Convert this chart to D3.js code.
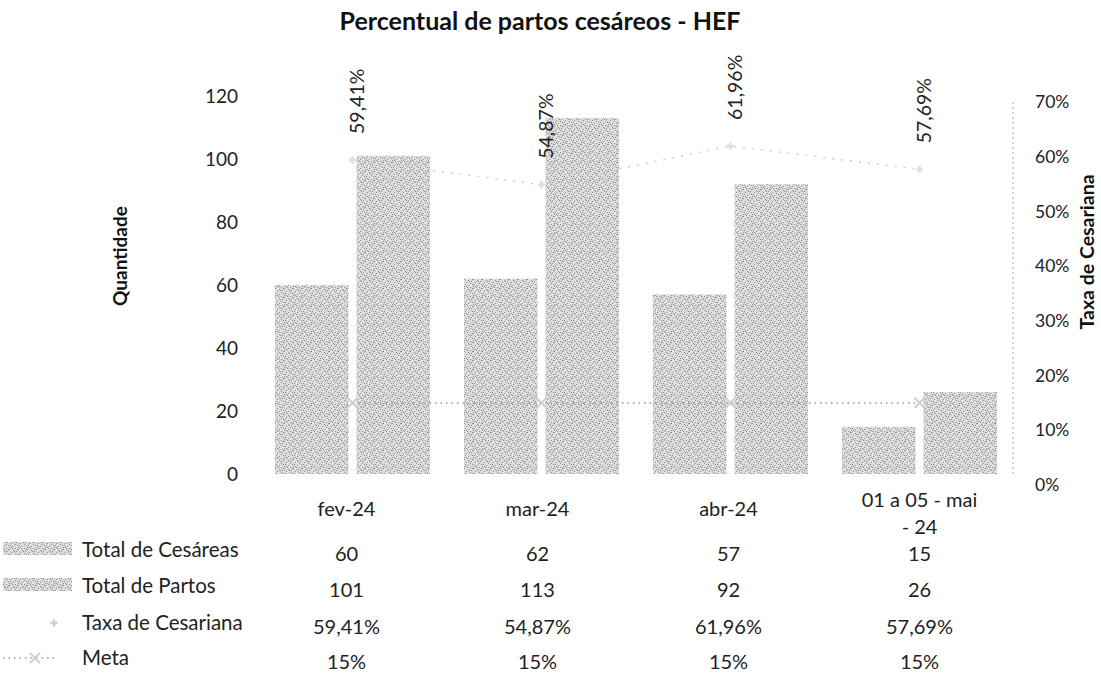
<!DOCTYPE html>
<html><head><meta charset="utf-8">
<script src="https://cdn.jsdelivr.net/npm/d3@7"></script>
<style>
html,body{margin:0;padding:0;background:#fff;}
svg{display:block;font-family:Lato,"Open Sans",sans-serif;}
</style></head>
<body><svg id="c" width="1101" height="679"></svg>
<script>
// ---- data ----
const categories = ["fev-24", "mar-24", "abr-24", "01 a 05 - mai - 24"];
const categoryLines = [["fev-24"], ["mar-24"], ["abr-24"], ["01 a 05 - mai", "- 24"]];
const totalCesareas = [60, 62, 57, 15];
const totalPartos = [101, 113, 92, 26];
const taxaCesariana = [0.5941, 0.5487, 0.6196, 0.5769];
const meta = [0.15, 0.15, 0.15, 0.15];
const leftTicks = [0, 20, 40, 60, 80, 100, 120];
const rightTicks = [0, 0.1, 0.2, 0.3, 0.4, 0.5, 0.6, 0.7];
const seriesNames = ["Total de Cesáreas", "Total de Partos", "Taxa de Cesariana", "Meta"];

const loc = d3.formatLocale({decimal: ",", thousands: ".", grouping: [3], currency: ["R$", ""]});
const pct2 = loc.format(".2%");
const pct0 = loc.format(".0%");

const svg = d3.select("#c");
const defs = svg.append("defs");
// stipple texture for bars
const pat = defs.append("pattern").attr("id", "stip").attr("width", 9).attr("height", 9)
  .attr("patternUnits", "userSpaceOnUse");
pat.append("rect").attr("width", 9).attr("height", 9).attr("fill", "#dadada");
[[0,0],[4,1],[7,2],[2,3],[6,4],[1,5],[8,5],[4,6],[0,7],[6,8],[3,8],[5,2],[8,0],[2,7]].forEach(([a,b]) =>
  pat.append("rect").attr("x", a).attr("y", b).attr("width", 1).attr("height", 1).attr("fill", "#909090"));
[[2,0],[7,6],[3,4],[5,7]].forEach(([a,b]) =>
  pat.append("rect").attr("x", a).attr("y", b).attr("width", 1).attr("height", 1).attr("fill", "#f4f4f4"));

// scales
const x0 = d3.scaleBand().domain(categories).range([258, 1014]).paddingInner(0.18).paddingOuter(0.09);
const x1 = d3.scaleBand().domain(["c", "p"]).range([0, x0.bandwidth()]).paddingInner(0.1);
const yL = d3.scaleLinear().domain([0, 120]).range([474, 96]);
const yR = d3.scaleLinear().domain([0, 0.7]).range([485, 102]);
const xT = d3.scaleBand().domain(categories).range([251, 1015]); // data table columns

// title
svg.append("text").attr("x", 540).attr("y", 30).attr("text-anchor", "middle")
  .attr("font-size", 25).attr("font-weight", "bold").attr("fill", "#111")
  .text("Percentual de partos cesáreos - HEF");

// axis titles
svg.append("text").attr("transform", "translate(119,256) rotate(-90)").attr("text-anchor", "middle")
  .attr("dominant-baseline", "central")
  .attr("font-size", 19).attr("font-weight", "bold").attr("fill", "#111").text("Quantidade");
svg.append("text").attr("transform", "translate(1086,252) rotate(-90)").attr("text-anchor", "middle")
  .attr("dominant-baseline", "central")
  .attr("font-size", 19.5).attr("font-weight", "bold").attr("fill", "#111").text("Taxa de Cesariana");

// left axis
const gL = svg.append("g").attr("transform", "translate(238,0)")
  .call(d3.axisLeft(yL).tickValues(leftTicks).tickSize(0).tickPadding(0));
gL.select(".domain").remove();
gL.selectAll("text").attr("font-size", 19).attr("fill", "#222").attr("font-family", "Lato,sans-serif");

// right axis
const gR = svg.append("g").attr("transform", "translate(1013,0)")
  .call(d3.axisRight(yR).tickValues(rightTicks).tickFormat(pct0).tickSize(0).tickPadding(22));
gR.select(".domain").attr("stroke", "#aaa").attr("stroke-dasharray", "2,3").attr("stroke-width", 1)
  .attr("d", `M0,${yR(0.7)}V${yL(0)}`);
gR.selectAll("text").attr("font-size", 17.5).attr("fill", "#222").attr("font-family", "Lato,sans-serif");

// taxa line (behind bars)
const taxaLine = d3.line().x((d, i) => x0(categories[i]) + x0.bandwidth() / 2).y(d => yR(d));
svg.append("path").datum(taxaCesariana).attr("d", taxaLine).attr("fill", "none")
  .attr("stroke", "#cdcdcd").attr("stroke-width", 1.5).attr("stroke-dasharray", "2,7");

// bars
const groups = svg.append("g").selectAll("g").data(categories).join("g")
  .attr("transform", d => `translate(${x0(d)},0)`);
groups.append("rect").attr("x", x1("c")).attr("width", x1.bandwidth())
  .attr("y", (d, i) => yL(totalCesareas[i])).attr("height", (d, i) => yL(0) - yL(totalCesareas[i]))
  .attr("fill", "url(#stip)");
groups.append("rect").attr("x", x1("p")).attr("width", x1.bandwidth())
  .attr("y", (d, i) => yL(totalPartos[i])).attr("height", (d, i) => yL(0) - yL(totalPartos[i]))
  .attr("fill", "url(#stip)");

// meta line
const metaLine = d3.line().x((d, i) => x0(categories[i]) + x0.bandwidth() / 2).y(d => yR(d));
svg.append("path").datum(meta).attr("d", metaLine).attr("fill", "none")
  .attr("stroke", "#999").attr("stroke-width", 1.6).attr("stroke-dasharray", "1.5,4");
svg.append("g").selectAll("path").data(meta).join("path")
  .attr("transform", (d, i) => `translate(${x0(categories[i]) + x0.bandwidth() / 2},${yR(d)})`)
  .attr("d", d3.symbol(d3.symbolX, 70)).attr("fill", "none").attr("stroke", "#cfcfcf").attr("stroke-width", 2);

// taxa markers (faint)
svg.append("g").selectAll("path").data(taxaCesariana).join("path")
  .attr("transform", (d, i) => `translate(${x0(categories[i]) + x0.bandwidth() / 2},${yR(d)})`)
  .attr("d", d3.symbol(d3.symbolCross, 30)).attr("fill", "#dedede");

// taxa data labels (rotated)
svg.append("g").selectAll("text").data(taxaCesariana).join("text")
  .attr("transform", (d, i) => `translate(${x0(categories[i]) + x0.bandwidth() / 2 + 4},${yR(d) - 26}) rotate(-90)`)
  .attr("text-anchor", "start").attr("dominant-baseline", "central")
  .attr("font-size", 19.5).attr("fill", "#222")
  .text(d => pct2(d));

// ---- data table ----
const tableRowY = [509, 554, 590, 627, 662];
const cat = svg.append("g").selectAll("text").data(categories).join("text")
  .attr("text-anchor", "middle").attr("font-size", 20).attr("fill", "#222")
  .attr("x", d => xT(d) + xT.bandwidth() / 2)
  .attr("y", (d, i) => tableRowY[0] + 7 - (categoryLines[i].length - 1) * 9);
cat.selectAll("tspan").data((d, i) => categoryLines[i]).join("tspan")
  .attr("x", function () { return this.parentNode.getAttribute("x"); })
  .attr("dy", (d, j) => j === 0 ? 0 : 27).text(d => d);

const rows = [totalCesareas.map(String), totalPartos.map(String), taxaCesariana.map(pct2), meta.map(pct0)];
rows.forEach((vals, r) => {
  svg.append("g").selectAll("text").data(vals).join("text")
    .attr("x", (d, i) => xT(categories[i]) + xT.bandwidth() / 2)
    .attr("y", tableRowY[r + 1] + 7).attr("text-anchor", "middle")
    .attr("font-size", 20).attr("fill", "#222").text(d => d);
  svg.append("text").attr("x", 82).attr("y", tableRowY[r + 1] + 3)
    .attr("font-size", 20.5).attr("fill", "#222").text(seriesNames[r]);
});
// legend keys
[0, 1].forEach(r => svg.append("rect").attr("x", 3).attr("y", tableRowY[r + 1] - 12)
  .attr("width", 69).attr("height", 13).attr("fill", "url(#stip)"));
svg.append("path").attr("transform", `translate(54,${tableRowY[3] - 4})`)
  .attr("d", d3.symbol(d3.symbolCross, 30)).attr("fill", "#cfcfcf");
svg.append("line").attr("x1", 3).attr("x2", 55).attr("y1", tableRowY[4] - 4).attr("y2", tableRowY[4] - 4)
  .attr("stroke", "#999").attr("stroke-width", 1.6).attr("stroke-dasharray", "1.5,4");
svg.append("path").attr("transform", `translate(35,${tableRowY[4] - 4})`)
  .attr("d", d3.symbol(d3.symbolX, 70)).attr("fill", "none").attr("stroke", "#cfcfcf").attr("stroke-width", 2);
</script></body></html>
